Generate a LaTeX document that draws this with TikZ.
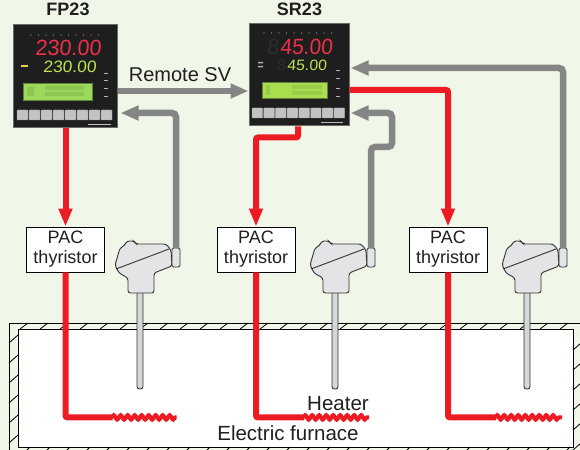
\documentclass[tikz,border=0pt]{standalone}
\usepackage{fontspec}
\setmainfont{Liberation Sans}
\usetikzlibrary{arrows.meta,decorations.pathmorphing}
\definecolor{cBg}{HTML}{F0F6E8}
\definecolor{cRed}{HTML}{ED1C24}
\definecolor{cGray}{HTML}{858585}
\definecolor{cTxt}{HTML}{231F20}
\definecolor{cHead}{HTML}{E4E4E6}
\definecolor{cStem}{HTML}{D6D6D8}
\definecolor{cEdge}{HTML}{333333}
\definecolor{cPanel}{HTML}{1E1E1E}
\definecolor{cPanelEdge}{HTML}{6A6A6A}
\definecolor{cSegRed}{HTML}{F0304A}
\definecolor{cSegGreen}{HTML}{BCE44E}
\definecolor{cLcd}{HTML}{9CD85C}
\definecolor{cBtn}{HTML}{C2C2C2}
\tikzset{
  garrow/.style={draw=cGray, line width=6.5bp, -{Triangle[length=18bp,width=14bp]}, rounded corners=4bp},
  rarrow/.style={draw=cRed, line width=6bp, -{Triangle[length=18bp,width=13bp]}, rounded corners=2bp},
  redwire/.style={draw=cRed, line width=6bp, rounded corners=2bp},
  heaterwire/.style={draw=cRed, line width=4bp, decoration={snake,segment length=7bp,amplitude=2.2bp}, decorate},
  pac/.style={draw=black, fill=white, line width=0.8bp, minimum width=78bp, minimum height=45bp,
    inner sep=0pt, align=center, font=\fontsize{18bp}{20bp}\selectfont, text=cTxt},
  toplabel/.style={anchor=base, inner sep=0pt, text=cTxt, font=\bfseries\fontsize{18bp}{20bp}\selectfont},
  txtlabel/.style={anchor=base, inner sep=0pt, text=cTxt, font=\fontsize{20.5bp}{22bp}\selectfont},
  panel/.style={draw=cPanelEdge, fill=cPanel, line width=1bp, inner sep=0pt},
  seg/.style={anchor=base west, inner sep=0pt, text depth=0pt, text height=0.72*#1, font=\fontsize{#1}{#1}\selectfont},
  btnbox/.style={fill=cBtn, draw=gray!70, line width=0.4bp, rounded corners=0.6bp},
  lcdbox/.style={fill=cLcd, draw=cLcd!60!black, line width=0.5bp},
  hatch/.style={line width=0.8bp, draw=black},
  tc/.pic={
    \draw[line width=0.9bp, draw=cEdge, fill=cStem, rounded corners=2.5bp]
      (-3,-2) -- (-3,96) -- (3,96) -- (3,-2);
    \draw[line width=0.9bp, draw=cEdge, fill=cHead, rounded corners=2.5bp]
      (-12,0) -- (-12,-15) -- (-21,-20) -- (-25,-28) -- (-20,-45) -- (-16,-47)
      -- (-13,-52) -- (-6,-52) -- (-4,-49) -- (26,-49) -- (31,-43) -- (32,-27)
      -- (14,-20) -- (14,0) -- cycle;
    \draw[line width=0.9bp, draw=cEdge] (-24,-24) -- (29,-44);
    \draw[line width=0.9bp, draw=cEdge, fill=cHead, rounded corners=1.5bp]
      (32,-45) rectangle (40,-26);
    \coordinate (-port) at (36,-45);
  }
}
\begin{document}
\begin{tikzpicture}[x=1bp,y=-1bp]
\useasboundingbox (0,0) rectangle (580,450);
\fill[cBg] (0,0) rectangle (580,450);
\begin{scope}
\clip (0,0) rectangle (580,450);
% furnace
\fill[white] (18,329) rectangle (573,447);
\draw[line width=1bp] (9,470) -- (9,323) -- (600,323);
\draw[line width=1bp] (18,329) rectangle (573,447);
\foreach \x in {28,48,...,588} \draw[hatch] (\x-8,329) -- (\x,323);
\foreach \y in {335,355,...,455} \draw[hatch] (9,\y+8) -- (18,\y);
\foreach \y in {343,363,...,463} \draw[hatch] (573,\y+7) -- (581,\y);
\foreach \x in {30,50,...,590} \draw[hatch] (\x-8,455) -- (\x,447);
\end{scope}
\node[txtlabel] (furnace) at (288,440) {Electric furnace};
\node[txtlabel] (heater) at (338,410) {Heater};

% thermocouples
\pic (tc1) at (140,293) {tc};
\pic (tc2) at (335,293) {tc};
\pic (tc3) at (527,293) {tc};

% controllers
\node[panel, minimum width=103bp, minimum height=103bp] (fp) at (65.5,76.5) {};
\node[panel, minimum width=100bp, minimum height=102bp] (sr) at (299,75) {};
\node[toplabel] (fplabel) at (68,16) {FP23};
\node[toplabel] (srlabel) at (299.5,16) {SR23};

% FP23 face
\foreach \i in {0,...,9} \fill[gray!70] (31+\i*7.5,35) circle (0.6bp);
\node[seg=22bp, text=cSegRed, xscale=0.98, xslant=0.08] (fpred) at (35,56) {230.00};
\fill[yellow!70!gray] (21,65) rectangle (28,67.5);
\node[seg=16.5bp, text=cSegGreen, xscale=1.05, xslant=0.08] (fpgreen) at (43,73) {230.00};
\draw[lcdbox] (23,83) rectangle (92,100);
\fill[cLcd!75!black, opacity=0.35] (27,87) rectangle (34,96) (45,86) rectangle (84,90) (45,92) rectangle (84,96);
\foreach \y in {73,80,88,96} \fill[gray!60] (104,\y) rectangle (108,\y+1.5);
\foreach \i in {0,...,7} \draw[btnbox] (17+\i*12,110) rectangle ++(11,10);
\fill[gray!50] (88,124) rectangle (111,125.5);

% SR23 face
\foreach \i in {0,...,9} \fill[gray!70] (264+\i*7.5,33) circle (0.6bp);
\node[seg=22bp, text=gray!35!black, xscale=0.95, xslant=0.08] (srdim1) at (267,55) {8};
\node[seg=22bp, text=cSegRed, xscale=0.95, xslant=0.08] (srred) at (280,55) {45.00};
\node[seg=15bp, text=gray!35!black, xslant=0.08] (srdim2) at (277,71) {8};
\node[seg=15bp, text=cSegGreen, xscale=1.05, xslant=0.08] (srgreen) at (287,71) {45.00};
\fill[gray!60] (258,62) rectangle (263,63.5) (258,66) rectangle (263,67.5);
\draw[lcdbox, fill=cLcd!85!yellow] (262,82) rectangle (327,98);
\fill[cLcd!75!black, opacity=0.3] (266,85) rectangle (270,95) (292,85) rectangle (322,89) (292,91) rectangle (322,95);
\foreach \y in {70,78,88,96} \fill[gray!60] (336,\y) rectangle (340,\y+1.5);
\foreach \i in {0,...,7} \draw[btnbox] (252+\i*11.7,108) rectangle ++(10.7,10);
\fill[gray!50] (321,122) rectangle (343,123.5);

% PAC thyristors
\node[pac] (pac1) at (65.5,249.5) {PAC\\thyristor};
\node[pac] (pac2) at (256,249.5) {PAC\\thyristor};
\node[pac] (pac3) at (448,249.5) {PAC\\thyristor};

% gray signal lines
\draw[garrow] ([yshift=-14.5bp]fp.east) -- ([yshift=-14.5bp]fp.east -| sr.west);
\node[txtlabel, font=\fontsize{20bp}{22bp}\selectfont] (rsv) at (180,82) {Remote SV};
\draw[garrow] (tc1-port) |- ([xshift=3bp,yshift=-36.5bp]fp.east);
\draw[garrow] (tc2-port) -- ++(0,-101) -- ++(21,0) |- ([xshift=1bp,yshift=-38bp]sr.east);
\draw[garrow] (tc3-port) |- ([xshift=1bp,yshift=7bp]sr.east);

% red power lines
\draw[rarrow] (fp.south) -- (pac1.north);
\draw[rarrow] ([xshift=-1bp]sr.south) -- ++(0,11) -| (pac2.north);
\draw[rarrow] ([yshift=-15bp]sr.east) -| (pac3.north);
\draw[redwire] (pac1.south) -- ++(0,145) -- ++(47,0) coordinate (h1);
\draw[redwire] (pac2.south) -- ++(0,145) -- ++(48,0) coordinate (h2);
\draw[redwire] (pac3.south) -- ++(0,145) -- ++(48,0) coordinate (h3);
\draw[heaterwire] ([xshift=-1bp]h1) -- ++(65,0);
\draw[heaterwire] ([xshift=-1bp]h2) -- ++(66,0);
\draw[heaterwire] ([xshift=-1bp]h3) -- ++(67,0);
\end{tikzpicture}
\end{document}
